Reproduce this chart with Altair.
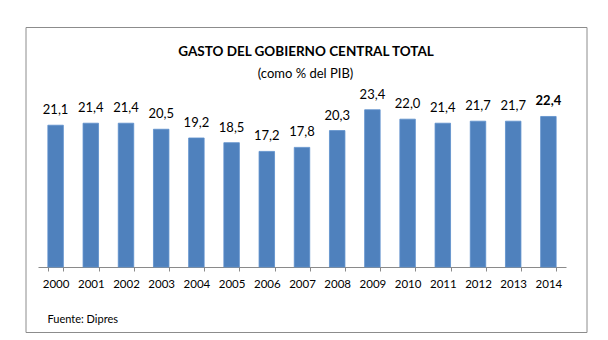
import altair as alt
import pandas as pd

years = ["2000", "2001", "2002", "2003", "2004", "2005", "2006", "2007",
         "2008", "2009", "2010", "2011", "2012", "2013", "2014"]
values = [21.1, 21.4, 21.4, 20.5, 19.2, 18.5, 17.2, 17.8,
          20.3, 23.4, 22.0, 21.4, 21.7, 21.7, 22.4]
labels = ["21,1", "21,4", "21,4", "20,5", "19,2", "18,5", "17,2", "17,8",
          "20,3", "23,4", "22,0", "21,4", "21,7", "21,7", "22,4"]
bold = [False] * 14 + [True]

title_text = "GASTO DEL GOBIERNO CENTRAL TOTAL"
subtitle_text = "(como % del PIB)"
source_text = "Fuente: Dipres"

df = pd.DataFrame({"year": years, "value": values, "label": labels, "bold": bold})

FONT = "Lato"
W, H = 528, 168

base = alt.Chart(df)

x_enc = alt.X(
    "year:N", sort=None,
    scale=alt.Scale(paddingInner=0.56, paddingOuter=0.28),
    axis=alt.Axis(
        title=source_text, titleX=9, titleY=52, titleAlign="left",
        titleBaseline="middle", titleAngle=0, titleFontWeight="normal",
        titleFontSize=11, titleFont=FONT, titleColor="#000000",
        labelAngle=0, labelFont=FONT, labelFontSize=11.5, labelColor="#000000",
        labelPadding=7, domainColor="#8a8a8a", tickColor="#8a8a8a",
        tickSize=4, tickBand="extent", grid=False,
    ),
)
y_enc = alt.Y("value:Q", scale=alt.Scale(domain=[0, 25], nice=False, zero=True), axis=None)

border = alt.Chart(pd.DataFrame({"k": [0]})).mark_rect(
    fill="white", fillOpacity=0, stroke="#8c8c8c", strokeWidth=1
).encode(x=alt.value(-12), x2=alt.value(549), y=alt.value(-71.5), y2=alt.value(233.5))

bars = base.mark_bar(color="#4F81BD", stroke="#5d8fcb", strokeWidth=0.8).encode(x=x_enc, y=y_enc)

txt_normal = base.transform_filter("!datum.bold").mark_text(
    baseline="bottom", dy=-8, font=FONT, fontSize=13, color="#000000"
).encode(x=x_enc, y=y_enc, text="label:N")

txt_bold = base.transform_filter("datum.bold").mark_text(
    baseline="bottom", dy=-8, font=FONT, fontSize=13, fontWeight="bold", color="#000000"
).encode(x=x_enc, y=y_enc, text="label:N")

title = alt.Chart(pd.DataFrame({"t": [title_text]})).mark_text(
    font=FONT, fontSize=13.5, fontWeight="bold", color="#000000", baseline="middle"
).encode(text="t:N", x=alt.value(268), y=alt.value(-47.5))

subtitle = alt.Chart(pd.DataFrame({"t": [subtitle_text]})).mark_text(
    font=FONT, fontSize=13, color="#000000", baseline="middle"
).encode(text="t:N", x=alt.value(267.5), y=alt.value(-25.5))

chart = alt.layer(border, bars, txt_normal, txt_bold, title, subtitle).properties(
    width=W, height=H,
    autosize=alt.AutoSizeParams(type="none"),
    padding={"left": 38, "top": 99, "right": 42, "bottom": 73},
    background="white",
).configure_view(stroke=None)

chart.save("out.html", embed_options={"renderer": "svg", "actions": False})
